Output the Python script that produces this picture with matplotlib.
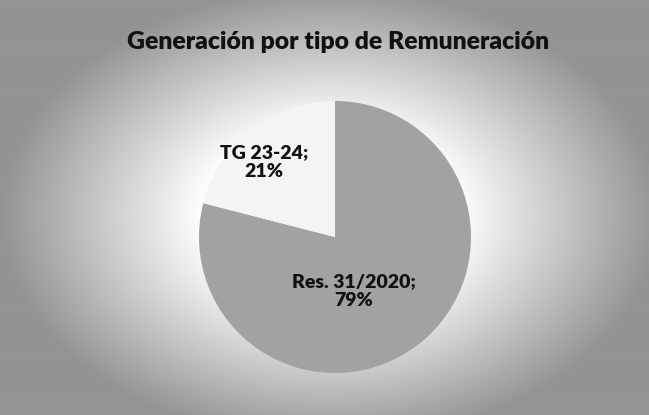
import numpy as np
import matplotlib.pyplot as plt

# data
labels = ["Res. 31/2020", "TG 23-24"]
shares = [79, 21]
colors = ["#a2a2a2", "#f4f4f4"]

W, H = 649, 415
fig = plt.figure(figsize=(W / 100, H / 100), dpi=100)

# radial grey background (white centre, grey edges)
bg = fig.add_axes([0, 0, 1, 1])
yy, xx = np.mgrid[0:H, 0:W]
d = np.sqrt(((xx - 330) / 360.0) ** 2 + ((yy - 215) / 250.0) ** 2)
shade = np.clip(1.0 - 0.45 * np.clip(d - 0.35, 0, None) / 0.6, 0.58, 1.0)
bg.imshow(shade, cmap="gray", vmin=0, vmax=1, aspect="auto", interpolation="bilinear")
bg.set_axis_off()

fig.text(0.521, 0.898, "Generación por tipo de Remuneración", ha="center", va="center",
         fontsize=17.8, fontweight="heavy", family="Lato", color="#111111")

cx, cy, r = 335, 237, 136
ax = fig.add_axes([(cx - r) / W, (H - cy - r) / H, 2 * r / W, 2 * r / H])
wedges, _ = ax.pie(shares, colors=colors, startangle=90, counterclock=False,
                   radius=1, wedgeprops=dict(linewidth=0))
ax.set_xlim(-1, 1)
ax.set_ylim(-1, 1)
ax.set_aspect("auto")
ax.set_axis_off()

# data labels (Excel "best fit" positions)
label_pos = [(0.14, -0.40), (-0.52, 0.55)]
for name, val, (lx, ly) in zip(labels, shares, label_pos):
    ax.text(lx, ly, f"{name};\n{val}%", ha="center", va="center", fontsize=14,
            fontweight="heavy", family="Lato", color="#111111", linespacing=1.15)

fig.savefig("out.png", dpi=100)
